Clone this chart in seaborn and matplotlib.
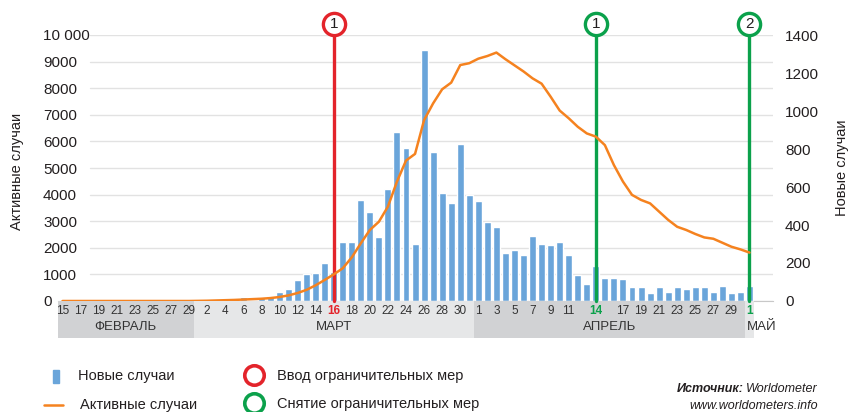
import matplotlib
matplotlib.use('Agg')

import matplotlib.pyplot as plt
import matplotlib.patches as mpatches
import matplotlib.lines as mlines
import seaborn as sns
import numpy as np
import pandas as pd

sns.set_style('white')
plt.rcParams['font.family'] = ['Liberation Sans', 'DejaVu Sans']

# ============================================================
# Данные: 15 февраля – 1 мая 2020
# ============================================================
dates = pd.date_range('2020-02-15', '2020-05-01', freq='D')

# новые случаи (правая ось)
new_feb = [0] * 15
new_mar = [0, 0, 0, 0, 12, 21, 0, 19, 28, 49, 63, 110, 142, 147, 201, 152,
           310, 310, 531, 468, 337, 589, 889, 805, 300, 1321, 784, 568, 516, 826, 558]
new_apr = [526, 416, 389, 253, 268, 242, 342, 300, 295, 310, 242, 137, 89, 184, 121,
           121, 116, 74, 74, 42, 74, 47, 74, 63, 74, 74, 47, 79, 42, 47]
new_may = [79]

# активные случаи (левая ось)
act_feb = [0] * 15
act_mar = [5, 10, 20, 30, 40, 55, 70, 85, 110, 150, 210, 300, 420, 590, 790, 1000,
           1230, 1640, 2170, 2670, 2980, 3550, 4490, 5280, 5530, 6800, 7430, 7960,
           8210, 8870, 8940]
act_apr = [9110, 9210, 9340, 9090, 8860, 8630, 8370, 8170, 7680, 7160, 6870, 6550,
           6300, 6180, 5860, 5110, 4490, 3990, 3800, 3670, 3360, 3050, 2790, 2670,
           2520, 2390, 2340, 2190, 2040, 1940]
act_may = [1820]

new_cases = new_feb + new_mar + new_apr + new_may
active_cases = act_feb + act_mar + act_apr + act_may

df = pd.DataFrame({'day': np.arange(len(dates)), 'date': dates,
                   'new': new_cases, 'active': active_cases})

# подписи дат
feb_labels = [15, 17, 19, 21, 23, 25, 27, 29]
mar_labels = list(range(2, 31, 2))
apr_labels = [1, 3, 5, 7, 9, 11, 14, 17, 19, 21, 23, 25, 27, 29]
may_labels = [1]

months = [('ФЕВРАЛЬ', 2, '#d1d2d4'), ('МАРТ', 3, '#e6e7e8'),
          ('АПРЕЛЬ', 4, '#d1d2d4'), ('МАЙ', 5, '#e6e7e8')]

# меры: (дата, номер, цвет)
RED = '#e3242b'
GREEN = '#0ba14b'
measures = [('2020-03-16', '1', RED), ('2020-04-14', '1', GREEN), ('2020-05-01', '2', GREEN)]

BAR = '#6aa5da'
ORANGE = '#f5821f'
TXT = '#231f20'

W, H = 849, 412
fx = lambda px: px / W
fy = lambda py: 1 - py / H

# ============================================================
# Рисунок
# ============================================================
fig = plt.figure(figsize=(W / 100, H / 100), dpi=100)
left, right, top, bottom = 58, 773, 35, 301
ax = fig.add_axes([fx(left), fy(bottom), fx(right) - fx(left), fy(top) - fy(bottom)])
ax2 = ax.twinx()
ax.set_zorder(ax2.get_zorder() + 1)
ax.patch.set_visible(False)

xlim = (-0.5, 78.6)

# столбцы — новые случаи
sns.barplot(data=df, x='day', y='new', native_scale=True, ax=ax2,
            color=BAR, saturation=1, width=0.77, zorder=2)
ax2.set_ylim(0, 1400)
ax2.set_yticks(range(0, 1401, 200))
ax2.tick_params(axis='y', length=0, pad=8.6, labelsize=11, labelcolor=TXT)
ax2.set_xlabel('')
ax2.set_ylabel('')

# сетка по левой оси (0..10000 шаг 1000)
gx0 = (90 - left) / (right - left)
for k in range(11):
    ax2.axhline(k * 140, xmin=gx0, xmax=1, color='#e2e2e2', lw=1, zorder=0)

for s in ['top', 'left', 'right']:
    ax2.spines[s].set_visible(False)
ax2.spines['bottom'].set_color('#c8c8c8')

# линия — активные случаи
sns.lineplot(data=df, x='day', y='active', ax=ax, color=ORANGE, linewidth=1.8, zorder=3)
ax.set_ylim(0, 10000)
ax.set_yticks(range(0, 10001, 1000),
              [f'{v}' if v < 10000 else '10 000' for v in range(0, 10001, 1000)])
ax.tick_params(axis='y', length=0, pad=10.8, labelsize=11, labelcolor=TXT)
plt.setp(ax.get_yticklabels(), ha='left')
ax.set_xlabel('')
ax.set_ylabel('')
ax.xaxis.set_visible(False)
for s in ax.spines.values():
    s.set_visible(False)
ax.set_xlim(*xlim)
ax2.set_xlim(*xlim)

# вертикальные линии и кружки
for d, num, col in measures:
    xi = df.index[df['date'] == pd.Timestamp(d)][0]
    ax.axvline(xi, ymin=0, ymax=1.041, color=col, lw=2.4, zorder=2.5, clip_on=False)
    ax.plot([xi], [1.041], transform=ax.get_xaxis_transform(), marker='o', ms=16,
            mfc='white', mec=col, mew=2.4, clip_on=False, zorder=6)
    ax.text(xi, 1.041, num, transform=ax.get_xaxis_transform(), ha='center',
            va='center', fontsize=11, color=TXT, zorder=7)

# полоса с датами и месяцами
axb = fig.add_axes([fx(left), fy(338), fx(right) - fx(left), fy(301) - fy(338)])
axb.set_xlim(*xlim)
axb.set_ylim(0, 1)
axb.axis('off')
label_map = {2: feb_labels, 3: mar_labels, 4: apr_labels, 5: may_labels}
for name, m, col in months:
    idx = df.index[df['date'].dt.month == m]
    axb.axvspan(idx.min() - 0.5, idx.max() + 0.5, color=col, lw=0)
    cx = (idx.min() + idx.max()) / 2
    if m == 5:
        axb.text(idx.min() - 0.3, 0.30, name, ha='left', va='center', fontsize=9.5,
                 color='#333333', clip_on=False)
    else:
        axb.text(cx, 0.30, name, ha='center', va='center', fontsize=9.5, color='#333333')
    for dnum in label_map[m]:
        xi = df.index[(df['date'].dt.month == m) & (df['date'].dt.day == dnum)][0]
        kw = dict(color='#333333')
        if m == 3 and dnum == 16:
            kw = dict(color=RED, fontweight='bold')
        if (m == 4 and dnum == 14) or m == 5:
            kw = dict(color=GREEN, fontweight='bold')
        axb.text(xi, 0.74, str(dnum), ha='center', va='center', fontsize=8.5, **kw)

# подписи осей
fig.text(fx(17), fy(171), 'Активные случаи', rotation=90, ha='center', va='center',
         fontsize=10.5, color=TXT)
fig.text(fx(842), fy(168), 'Новые случаи', rotation=90, ha='center', va='center',
         fontsize=10.5, color=TXT)

# легенда
fig.add_artist(mpatches.Rectangle((fx(53), fy(383)), fx(6), 13 / H, color=BAR,
                                  transform=fig.transFigure))
fig.text(fx(78), fy(376), 'Новые случаи', ha='left', va='center', fontsize=10.5, color=TXT)
fig.add_artist(mlines.Line2D([fx(44), fx(63)], [fy(405), fy(405)], color=ORANGE, lw=1.8,
                             transform=fig.transFigure))
fig.text(fx(80), fy(405), 'Активные случаи', ha='left', va='center', fontsize=10.5, color=TXT)

for py, col, txt in [(375, RED, 'Ввод ограничительных мер'),
                     (403, GREEN, 'Снятие ограничительных мер')]:
    fig.add_artist(mlines.Line2D([fx(254)], [fy(py)], marker='o', ms=14, mfc='white',
                                 mec=col, mew=2.6, transform=fig.transFigure))
    fig.text(fx(277), fy(py + 1), txt, ha='left', va='center', fontsize=10.5, color=TXT)

# источник
src = fig.text(fx(818), fy(389), 'Worldometer', ha='right', va='center', fontsize=9,
               style='italic', color=TXT)
renderer = fig.canvas.get_renderer()
src_w = src.get_window_extent(renderer).width
fig.text(fx(818 - src_w - 3), fy(389), 'Источник:', ha='right', va='center', fontsize=9,
         style='italic', fontweight='bold', color=TXT)
fig.text(fx(818), fy(406), 'www.worldometers.info', ha='right', va='center', fontsize=9,
         style='italic', color=TXT)

fig.savefig('out.png', dpi=100)
